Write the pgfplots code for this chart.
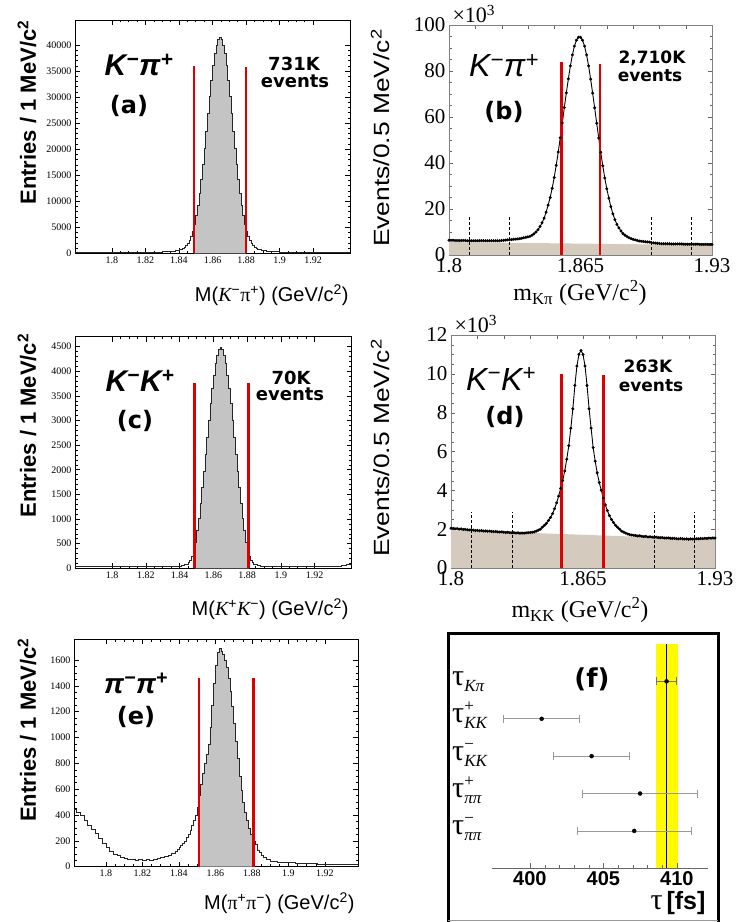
\documentclass[border=0pt]{standalone}
\usepackage{fontspec}
\setmainfont{Liberation Sans}
\newfontfamily\tnr{Liberation Serif}
\newfontfamily\dvs{DejaVu Sans}
\usepackage{graphicx}
\usepackage{pgfplots}
\pgfplotsset{compat=1.18}
\usepackage{pgfplotstable}

\newcommand{\fs}[1]{\fontsize{#1}{#1}\selectfont}
\definecolor{cutred}{RGB}{222,0,0}
\definecolor{bgfill}{RGB}{212,202,190}
\definecolor{band}{RGB}{255,250,0}
\definecolor{histfill}{RGB}{196,196,196}

% tau label: subscript, superscript
\newcommand{\taulab}[2]{{\tnr\fs{30}τ}\makebox[0pt][l]{\raisebox{11pt}{\tnr\fs{17}#2}}\raisebox{-6pt}{\tnr\itshape\fs{17}#1}}

\pgfplotsset{
  histo/.style={scale only axis, xmin=1.778, xmax=1.942,
    xtick={1.8,1.82,1.84,1.86,1.88,1.9,1.92}, minor x tick num=3,
    tick align=inside, xtick pos=both, ytick pos=both,
    major tick length=5pt, minor tick length=2.5pt,
    axis line style={black, line width=0.6pt}, tick style={black, line width=0.5pt},
    tick label style={font=\tnr\fs{10}},
    /pgf/number format/assume math mode=true, /pgf/number format/1000 sep={},
    scaled y ticks=false, ymin=0},
  fitp/.style={scale only axis, xmin=1.8, xmax=1.93,
    xtick={1.8,1.813,1.826,1.839,1.852,1.865,1.878,1.891,1.904,1.917,1.93},
    xticklabels={1.8,,,,,1.865,,,,,1.93},
    tick align=inside, xtick pos=both, ytick pos=both, minor y tick num=3,
    major tick length=4pt, minor tick length=2.5pt,
    axis line style={black!50}, tick style={black!60},
    tick label style={font=\tnr\fs{21}},
    /pgf/number format/assume math mode=true, ymin=0},
  cut/.style={cutred, line width=2.7pt},
  side/.style={black, densely dashed, line width=0.8pt},
}

% (a) K- pi+ histogram, 1 MeV bins (left edges)
\pgfplotstableread{
x y
1.778 130
1.790 140
1.800 150
1.810 170
1.820 200
1.825 230
1.830 280
1.832 300
1.834 320
1.835 350
1.836 390
1.837 440
1.838 500
1.839 580
1.840 680
1.841 800
1.842 950
1.843 1150
1.844 1450
1.845 1900
1.846 2500
1.847 3300
1.848 4300
1.849 5600
1.850 7300
1.851 9200
1.852 11500
1.853 14200
1.854 17100
1.855 20200
1.856 23500
1.857 26900
1.858 30100
1.859 33200
1.860 36000
1.861 38300
1.862 40000
1.863 41100
1.864 41500
1.865 41100
1.866 40000
1.867 38300
1.868 36000
1.869 33200
1.870 30100
1.871 26900
1.872 23500
1.873 20200
1.874 17100
1.875 14200
1.876 11500
1.877 9200
1.878 7300
1.879 5600
1.880 4300
1.881 3300
1.882 2500
1.883 1900
1.884 1450
1.885 1150
1.886 950
1.887 800
1.888 680
1.889 580
1.890 500
1.892 400
1.895 330
1.900 250
1.905 200
1.910 170
1.920 150
1.930 140
1.942 140
}\dataA

% (c) K- K+ histogram
\pgfplotstableread{
x y
1.778 30
1.785 32
1.790 30
1.795 33
1.800 30
1.805 31
1.810 33
1.815 30
1.820 32
1.825 33
1.830 35
1.834 38
1.837 40
1.839 45
1.841 50
1.842 58
1.843 70
1.844 90
1.845 120
1.846 170
1.847 240
1.848 350
1.849 520
1.850 760
1.851 1020
1.852 1320
1.853 1640
1.854 1970
1.855 2310
1.856 2660
1.857 3010
1.858 3340
1.859 3650
1.860 3920
1.861 4150
1.862 4330
1.863 4440
1.864 4480
1.865 4440
1.866 4330
1.867 4150
1.868 3920
1.869 3650
1.870 3340
1.871 3010
1.872 2660
1.873 2310
1.874 1970
1.875 1640
1.876 1320
1.877 1020
1.878 760
1.879 520
1.880 350
1.881 240
1.882 170
1.883 120
1.884 90
1.885 70
1.886 58
1.887 50
1.888 45
1.889 40
1.892 36
1.896 32
1.900 30
1.910 31
1.920 30
1.928 33
1.932 40
1.936 55
1.939 75
1.942 90
}\dataC

% (e) pi- pi+ histogram
\pgfplotstableread{
x y
1.782 440
1.784 420
1.786 400
1.788 360
1.790 320
1.792 290
1.794 260
1.796 220
1.798 180
1.800 150
1.802 120
1.804 95
1.806 85
1.808 70
1.810 65
1.812 55
1.814 60
1.816 50
1.818 55
1.820 48
1.822 55
1.824 50
1.826 60
1.828 65
1.830 75
1.832 80
1.834 90
1.836 100
1.838 120
1.839 135
1.840 150
1.841 165
1.842 180
1.843 200
1.844 225
1.845 250
1.846 280
1.847 320
1.848 360
1.849 400
1.850 460
1.851 550
1.852 640
1.853 720
1.854 800
1.855 870
1.856 950
1.857 1080
1.858 1250
1.859 1420
1.860 1560
1.861 1660
1.862 1690
1.863 1670
1.864 1640
1.865 1600
1.866 1540
1.867 1460
1.868 1360
1.869 1240
1.870 1110
1.871 970
1.872 840
1.873 700
1.874 590
1.875 500
1.876 420
1.877 360
1.878 300
1.879 250
1.880 210
1.881 200
1.882 170
1.883 130
1.884 110
1.885 90
1.886 70
1.888 55
1.890 45
1.892 40
1.894 35
1.896 32
1.898 30
1.900 30
1.904 28
1.908 25
1.912 24
1.916 22
1.920 22
1.924 20
1.928 20
1.932 18
1.938 18
}\dataE

% (b) K- pi+ fitted sample, events / 0.5 MeV (x10^3)
\pgfplotstableread{
x y
1.800 6.4
1.801 6.4
1.802 6.4
1.803 6.3
1.804 6.3
1.805 6.3
1.806 6.3
1.807 6.3
1.808 6.3
1.809 6.2
1.810 6.2
1.811 6.2
1.812 6.2
1.813 6.2
1.814 6.2
1.815 6.2
1.816 6.2
1.817 6.2
1.818 6.2
1.819 6.2
1.820 6.2
1.821 6.2
1.822 6.2
1.823 6.2
1.824 6.2
1.825 6.2
1.826 6.3
1.827 6.4
1.828 6.5
1.829 6.6
1.830 6.7
1.831 6.7
1.832 6.8
1.833 6.9
1.834 7.0
1.835 7.1
1.836 7.3
1.837 7.5
1.838 7.7
1.839 7.9
1.840 8.1
1.841 8.6
1.842 9.2
1.843 10.0
1.844 11.0
1.845 12.4
1.846 14.0
1.847 16.0
1.848 18.6
1.849 21.7
1.850 25.0
1.851 29.0
1.852 33.7
1.853 39.0
1.854 44.8
1.855 51.0
1.856 57.4
1.857 64.1
1.858 70.5
1.859 76.6
1.860 82.2
1.861 87.0
1.862 90.8
1.863 93.4
1.864 94.7
1.865 94.7
1.866 93.4
1.867 90.8
1.868 87.0
1.869 82.2
1.870 76.5
1.871 70.4
1.872 64.0
1.873 57.3
1.874 50.9
1.875 44.7
1.876 38.8
1.877 33.5
1.878 28.8
1.879 24.7
1.880 21.0
1.881 17.9
1.882 15.4
1.883 13.3
1.884 11.8
1.885 10.4
1.886 9.3
1.887 8.6
1.888 8.0
1.889 7.5
1.890 7.1
1.891 6.8
1.892 6.6
1.893 6.3
1.894 6.1
1.895 6.0
1.896 5.9
1.897 5.8
1.898 5.7
1.899 5.6
1.900 5.45
1.901 5.3
1.902 5.2
1.903 5.1
1.904 5.0
1.905 4.9
1.906 4.9
1.907 4.9
1.908 4.9
1.909 4.9
1.910 4.8
1.911 4.8
1.912 4.8
1.913 4.8
1.914 4.8
1.915 4.8
1.916 4.7
1.917 4.7
1.918 4.7
1.919 4.7
1.920 4.7
1.921 4.7
1.922 4.7
1.923 4.7
1.924 4.6
1.925 4.6
1.926 4.6
1.927 4.6
1.928 4.6
1.929 4.6
1.930 4.6
}\dataB

% (d) K- K+ fitted sample (x10^3)
\pgfplotstableread{
x y
1.800 2.05
1.801 2.04
1.802 2.02
1.803 2.03
1.804 2.00
1.805 2.01
1.806 1.98
1.807 1.99
1.808 1.97
1.809 1.96
1.810 1.97
1.811 1.95
1.812 1.93
1.813 1.94
1.814 1.92
1.815 1.93
1.816 1.90
1.817 1.91
1.818 1.89
1.819 1.90
1.820 1.88
1.821 1.87
1.822 1.88
1.823 1.86
1.824 1.85
1.825 1.86
1.826 1.84
1.827 1.83
1.828 1.84
1.829 1.82
1.830 1.81
1.831 1.82
1.832 1.80
1.833 1.81
1.834 1.79
1.835 1.80
1.836 1.80
1.837 1.81
1.838 1.82
1.839 1.83
1.840 1.84
1.841 1.86
1.842 1.90
1.843 1.95
1.844 2.00
1.845 2.10
1.846 2.20
1.847 2.30
1.848 2.45
1.849 2.60
1.850 2.80
1.851 3.05
1.852 3.35
1.853 3.70
1.854 4.10
1.855 4.50
1.856 5.00
1.857 5.60
1.858 6.30
1.859 7.20
1.860 8.20
1.861 9.40
1.862 10.40
1.863 11.00
1.864 11.20
1.865 11.00
1.866 10.40
1.867 9.40
1.868 8.20
1.869 7.20
1.870 6.20
1.871 5.50
1.872 4.90
1.873 4.40
1.874 4.00
1.875 3.60
1.876 3.25
1.877 2.95
1.878 2.70
1.879 2.50
1.880 2.35
1.881 2.20
1.882 2.10
1.883 2.00
1.884 1.90
1.885 1.85
1.886 1.80
1.887 1.75
1.888 1.72
1.889 1.70
1.890 1.68
1.891 1.67
1.892 1.65
1.893 1.66
1.894 1.63
1.895 1.62
1.896 1.63
1.897 1.60
1.898 1.61
1.899 1.59
1.900 1.58
1.901 1.59
1.902 1.57
1.903 1.56
1.904 1.57
1.905 1.55
1.906 1.54
1.907 1.55
1.908 1.53
1.909 1.52
1.910 1.53
1.911 1.51
1.912 1.50
1.913 1.52
1.914 1.50
1.915 1.49
1.916 1.50
1.917 1.48
1.918 1.50
1.919 1.49
1.920 1.50
1.921 1.51
1.922 1.50
1.923 1.52
1.924 1.51
1.925 1.53
1.926 1.52
1.927 1.54
1.928 1.53
1.929 1.55
1.930 1.55
}\dataD

\begin{document}
\begin{tikzpicture}[x=1pt,y=1pt]
\useasboundingbox (0,0) rectangle (736,922);

% ---------- (a)
\begin{axis}[histo, at={(75pt,668.7pt)}, anchor=south west, width=275pt, height=233.3pt,
  ymax=44800, ytick={0,5000,...,40000}, minor y tick num=4]
  \addplot[const plot, fill=histfill, draw=none, restrict x to domain=1.8485:1.8805] table {\dataA} \closedcycle;
  \addplot[const plot, black!85, line width=0.7pt] table {\dataA};
  \addplot[cut] coordinates {(1.849,0) (1.849,36000)};
  \addplot[cut] coordinates {(1.880,0) (1.880,35800)};
\end{axis}

% ---------- (c)
\begin{axis}[histo, at={(75pt,353.7pt)}, anchor=south west, width=276.7pt, height=231.6pt,
  ymax=4700, ytick={0,500,...,4500}, minor y tick num=4]
  \addplot[const plot, fill=histfill, draw=none, restrict x to domain=1.8485:1.8815] table {\dataC} \closedcycle;
  \addplot[const plot, black!85, line width=0.7pt] table {\dataC};
  \addplot[cut] coordinates {(1.849,0) (1.849,3770)};
  \addplot[cut] coordinates {(1.881,0) (1.881,3770)};
\end{axis}

% ---------- (e)
\begin{axis}[histo, at={(74pt,55.3pt)}, anchor=south west, width=284.3pt, height=227.4pt,
  xmin=1.7825, xmax=1.9383, ymax=1760, ytick={0,200,...,1600}, minor y tick num=3]
  \addplot[const plot, fill=histfill, draw=none, restrict x to domain=1.8505:1.8815] table {\dataE} \closedcycle;
  \addplot[const plot, black!85, line width=0.7pt] table {\dataE};
  \addplot[cut] coordinates {(1.851,0) (1.851,1460)};
  \addplot[cut] coordinates {(1.881,0) (1.881,1460)};
\end{axis}

% ---------- (b)
\begin{axis}[fitp, at={(449pt,667pt)}, anchor=south west, width=263pt, height=230pt,
  ymax=100, ytick={0,20,...,100}]
  \addplot[fill=bgfill, draw=none] coordinates {(1.8,5.6) (1.93,4.3)} \closedcycle;
  \addplot[black, line width=0.9pt, mark=*, mark size=1pt] table {\dataB};
  \addplot[side] coordinates {(1.81,0) (1.81,17)};
  \addplot[side] coordinates {(1.83,0) (1.83,17)};
  \addplot[side] coordinates {(1.855,0) (1.855,17)};
  \addplot[side] coordinates {(1.90,0) (1.90,17)};
  \addplot[side] coordinates {(1.92,0) (1.92,17)};
  \addplot[cut] coordinates {(1.8557,0) (1.8557,84)};
  \addplot[cut] coordinates {(1.8746,0) (1.8746,83)};
\end{axis}

% ---------- (d)
\begin{axis}[fitp, at={(451pt,354pt)}, anchor=south west, width=264pt, height=233pt,
  ymax=12, ytick={0,2,...,12}]
  \addplot[fill=bgfill, draw=none] coordinates {(1.8,1.95) (1.93,1.47)} \closedcycle;
  \addplot[black, line width=0.9pt, mark=*, mark size=1pt] table {\dataD};
  \addplot[side] coordinates {(1.81,0) (1.81,2.9)};
  \addplot[side] coordinates {(1.83,0) (1.83,2.9)};
  \addplot[side] coordinates {(1.90,0) (1.90,2.9)};
  \addplot[side] coordinates {(1.92,0) (1.92,2.9)};
  \addplot[cut] coordinates {(1.8545,0) (1.8545,10.0)};
  \addplot[cut] coordinates {(1.875,0) (1.875,9.95)};
\end{axis}

% ---------- (f) lifetimes
\begin{axis}[at={(491.7pt,53.7pt)}, anchor=south west, scale only axis, width=216pt, height=224.3pt,
  xmin=397.4, xmax=412.1, ymin=0, ymax=6, axis on top,
  axis x line=bottom, axis y line=none, axis line style={-, black!60},
  xtick={400,405,410}, minor x tick num=4, ytick=\empty,
  tick align=inside, major tick length=5pt, minor tick length=3pt, tick style={black!60},
  xticklabel style={font=\bfseries\fs{20}}, /pgf/number format/assume math mode=true]
  \addplot[fill=band, draw=none] coordinates {(408.55,6) (410.05,6)} \closedcycle;
  \addplot[black, line width=0.6pt] coordinates {(409.3,0) (409.3,6)};
  \addplot[only marks, mark=*, mark size=2pt, black,
    error bars/.cd, x dir=both, x explicit,
    error bar style={black!55, line width=0.8pt},
    error mark options={rotate=90, black!55, mark size=4pt, line width=0.8pt}]
    coordinates {(409.3,5) +- (0.7,0)};
  \addplot[only marks, mark=*, mark size=2pt, black,
    error bars/.cd, x dir=both, x explicit,
    error bar style={black!40, line width=0.8pt},
    error mark options={rotate=90, black!40, mark size=4pt, line width=0.8pt}]
    coordinates {(400.8,4) +- (2.6,0) (404.2,3) +- (2.6,0) (407.5,2) +- (3.9,0) (407.1,1) +- (3.9,0)};
\end{axis}
\draw[line width=3pt] (448.3,0) -- (448.3,288.7) -- (718.3,288.7) -- (718.3,0);
\draw[black!40, line width=0.8pt] (448.3,1.5) -- (718.3,1.5);

% ---------- axis titles
\node[rotate=90, font=\bfseries\fs{22}] at (27,809.5) {Entries / 1 MeV/c\textsuperscript{2}};
\node[rotate=90, font=\bfseries\fs{22}] at (27,496.3) {Entries / 1 MeV/c\textsuperscript{2}};
\node[rotate=90, font=\bfseries\fs{22}] at (27,192) {Entries / 1 MeV/c\textsuperscript{2}};
\node[rotate=90] at (380,784) {\scalebox{1.2}[1]{\fs{22}Events/0.5 MeV/c\textsuperscript{2}}};
\node[rotate=90] at (380,474) {\scalebox{1.2}[1]{\fs{22}Events/0.5 MeV/c\textsuperscript{2}}};

\node[anchor=east, font=\fs{20}] at (352,627) {M({\tnr\itshape K}\textsuperscript{−}{\tnr π}\textsuperscript{+}) (GeV/c\textsuperscript{2})};
\node[anchor=east, font=\fs{20}] at (352,313) {M({\tnr\itshape K}\textsuperscript{+}{\tnr\itshape K}\textsuperscript{−}) (GeV/c\textsuperscript{2})};
\node[anchor=east, font=\fs{20}] at (358,18.7) {M({\tnr π}\textsuperscript{+}{\tnr π}\textsuperscript{−}) (GeV/c\textsuperscript{2})};
\node[font=\tnr\fs{24}] at (580,628.7) {m\textsubscript{Kπ} (GeV/c\textsuperscript{2})};
\node[font=\tnr\fs{24}] at (580,312) {m\textsubscript{KK} (GeV/c\textsuperscript{2})};
\node[anchor=base west, font=\tnr\fs{22}] at (449,899) {×10\textsuperscript{3}};
\node[anchor=base west, font=\tnr\fs{22}] at (451,589) {×10\textsuperscript{3}};

% ---------- panel annotations
\node[font=\bfseries\itshape\fs{30}] at (139,857) {K\textsuperscript{−}π\textsuperscript{+}};
\node[font=\dvs\bfseries\fs{24}] at (129,816) {(a)};
\node[font=\dvs\bfseries\fs{18}] at (294,858) {731K};
\node[font=\dvs\bfseries\fs{18}] at (295,841) {events};

\node[font=\itshape\fs{32}] at (504,856) {K\textsuperscript{−}π\textsuperscript{+}};
\node[font=\dvs\bfseries\fs{24}] at (504,810) {(b)};
\node[font=\dvs\bfseries\fs{17}] at (652,864) {2,710K};
\node[font=\dvs\bfseries\fs{17}] at (650,846) {events};

\node[font=\bfseries\itshape\fs{30}] at (140,541) {K\textsuperscript{−}K\textsuperscript{+}};
\node[font=\dvs\bfseries\fs{24}] at (135,501) {(c)};
\node[font=\dvs\bfseries\fs{18}] at (291,544) {70K};
\node[font=\dvs\bfseries\fs{18}] at (290,528) {events};

\node[font=\itshape\fs{32}] at (501,543) {K\textsuperscript{−}K\textsuperscript{+}};
\node[font=\dvs\bfseries\fs{24}] at (505,505) {(d)};
\node[font=\dvs\bfseries\fs{17}] at (648,556) {263K};
\node[font=\dvs\bfseries\fs{17}] at (651,536) {events};

\node[font=\bfseries\itshape\fs{28}] at (136,239) {π\textsuperscript{−}π\textsuperscript{+}};
\node[font=\dvs\bfseries\fs{24}] at (136,205) {(e)};

\node[font=\dvs\bfseries\fs{26}] at (592,243) {(f)};
\node[anchor=base west, inner sep=0pt] at (452,236.8) {\taulab{Kπ}{}};
\node[anchor=base west, inner sep=0pt] at (452,199.5) {\taulab{KK}{+}};
\node[anchor=base west, inner sep=0pt] at (452,161.8) {\taulab{KK}{−}};
\node[anchor=base west, inner sep=0pt] at (452,124.8) {\taulab{ππ}{+}};
\node[anchor=base west, inner sep=0pt] at (452,87.5) {\taulab{ππ}{−}};
\node[anchor=east] at (709,19) {{\tnr\fs{30}τ}\hspace{4pt}{\bfseries\fs{25}[fs]}};
\end{tikzpicture}
\end{document}
